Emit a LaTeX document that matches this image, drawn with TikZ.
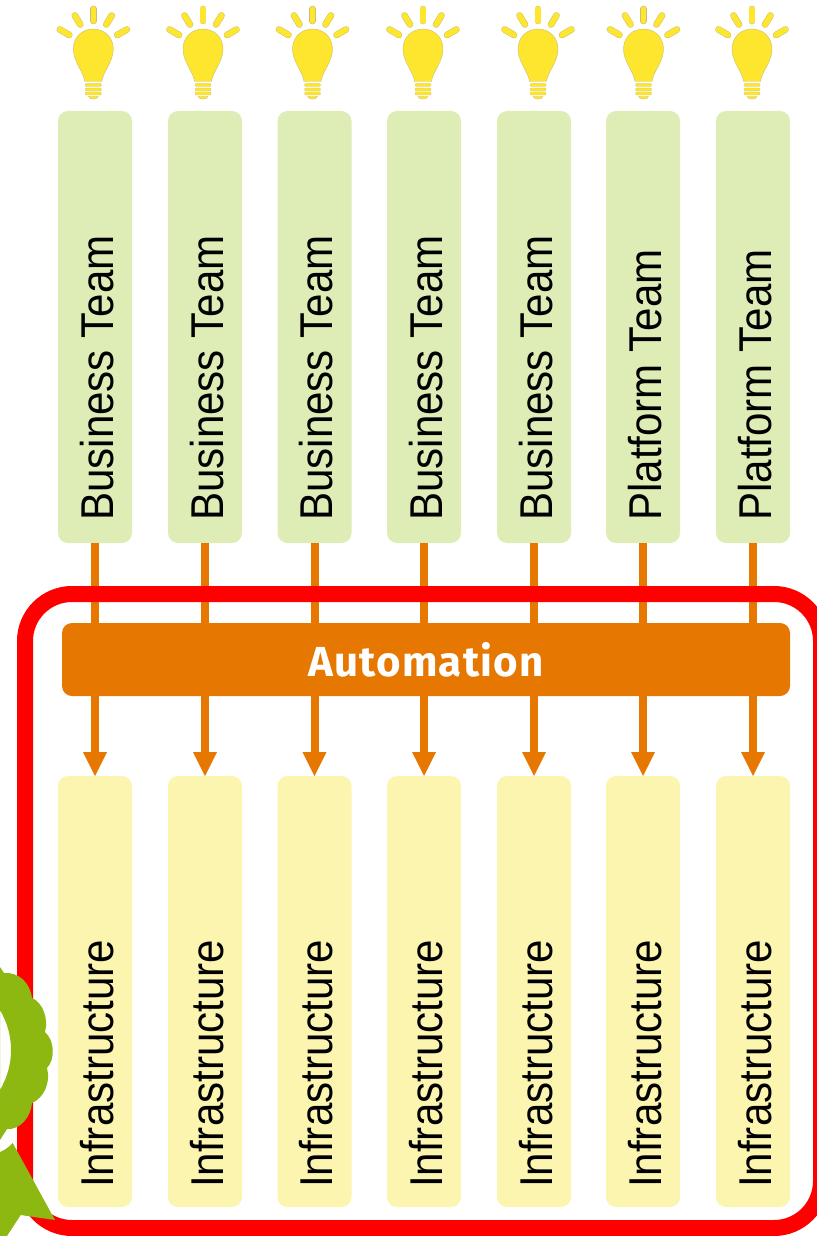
\documentclass[tikz,border=0pt]{standalone}
\usepackage{fontspec}
\setmainfont[FakeStretch=0.915]{Liberation Sans}
\newfontfamily\autofont[LetterSpace=3]{Fira Sans}
\definecolor{teamgreen}{HTML}{DEEDB5}
\definecolor{infrayellow}{HTML}{FCF5B0}
\definecolor{autoorange}{HTML}{E67700}
\definecolor{bulbyellow}{HTML}{FFE62E}
\definecolor{bulbedge}{HTML}{C8BE78}
\definecolor{rosette}{HTML}{8CB811}
\tikzset{x=1pt,y=-1pt,
 teambox/.style={fill=teamgreen,rounded corners=10pt,minimum width=74pt,minimum height=432pt,inner sep=0pt,text=black},
 infrabox/.style={fill=infrayellow,rounded corners=10pt,minimum width=74pt,minimum height=431pt,inner sep=0pt},
 boxlabel/.style={rotate=90,font=\fontsize{46}{46}\selectfont,text=black,inner sep=0pt,anchor=base west},
 autobox/.style={fill=autoorange,rounded corners=10pt,minimum width=728pt,minimum height=73pt,inner sep=0pt,text=white,font=\fontsize{42}{42}\autofont\bfseries},
 flowline/.style={draw=autoorange,line width=8pt},
 flowhead/.style={fill=autoorange},
 ray/.style={line cap=round,line width=6.6pt,draw=bulbedge,postaction={draw=bulbyellow,line width=5.6pt}},
}
\newcommand{\bulb}[1]{%
 \begin{scope}[shift={(#1,0)}]
  \draw[ray] (0,9) -- (0,21);
  \draw[ray] (-18.5,15.5) -- (-13,24.5);
  \draw[ray] (18.5,15.5) -- (13,24.5);
  \draw[ray] (-33.5,29.5) -- (-24,35);
  \draw[ray] (33.5,29.5) -- (24,35);
  \fill[bulbyellow,draw=bulbedge,line width=.4pt] (-8.5,81.5) .. controls (-9.5,72) and (-20,62) .. (-20,49) .. controls (-20,37) and (-11,29) .. (0,29) .. controls (11,29) and (20,37) .. (20,49) .. controls (20,62) and (9.5,72) .. (8.5,81.5) -- cycle;
  \fill[bulbyellow,draw=bulbedge,line width=.3pt,rounded corners=1pt] (-8,83.5) rectangle (8,86.5);
  \fill[bulbyellow,draw=bulbedge,line width=.3pt,rounded corners=1pt] (-8,88) rectangle (8,91);
  \fill[bulbyellow,draw=bulbedge,line width=.3pt,rounded corners=1pt] (-8,92) rectangle (8,95);
  \fill[bulbyellow,draw=bulbedge,line width=.3pt] (-5,96.5) -- (5,96.5) .. controls (4,100) and (-4,100) .. (-5,96.5) -- cycle;
 \end{scope}}
\begin{document}
\begin{tikzpicture}
\useasboundingbox (0,0) rectangle (816,1236);
\foreach \i/\x/\b/\t in {1/95/93.3/Business Team,2/205/203/Business Team,3/314.5/312.5/Business Team,4/424/423/Business Team,5/534/538/Business Team,6/643/643.5/Platform Team,7/753/752/Platform Team}{
 \bulb{\b}
 \node[teambox] (team\i) at (\x,327) {};
 \node[infrabox] (infra\i) at (\x,991.5) {};
 \node[boxlabel] (tl\i) at (\x+18,521) {\t};
 \node[boxlabel] (il\i) at (\x+18,1188) {Infrastructure};
 \coordinate (tip\i) at (\x,776);
 \coordinate (neck\i) at (\x,752);
 \draw[flowline] (team\i.south) -- (neck\i);
 \fill[flowhead] (tip\i) -- ++(-12,-24) -- ++(24,0) -- cycle;
}
\node[draw=red,line width=16pt,rounded corners=47pt,minimum width=796pt,minimum height=634pt,inner sep=0pt] (frame) at (423,911) {};
\node[autobox] (auto) at (426,659.5) {Automation};
% rosette
\fill[rosette] (12.7,1143) -- (55,1220) -- (20.7,1215) -- (7,1236) -- (0,1236) -- (0,1152) .. controls (5,1150) and (9,1147) .. (12.7,1143) -- cycle;
\fill[rosette,even odd rule] (4,973) .. controls (18,972) and (30,982) .. (32,998)
 .. controls (42,1002) and (49,1018) .. (45,1032)
 .. controls (54,1040) and (56,1058) .. (47,1068)
 .. controls (51,1082) and (44,1098) .. (32,1103)
 .. controls (31,1117) and (20,1130) .. (7,1129)
 -- (0,1140) -- (0,967) -- cycle
 (0,1010) .. controls (8,1024) and (11,1037) .. (11,1050) .. controls (11,1063) and (8,1076) .. (0,1090) -- cycle;
\end{tikzpicture}
\end{document}
